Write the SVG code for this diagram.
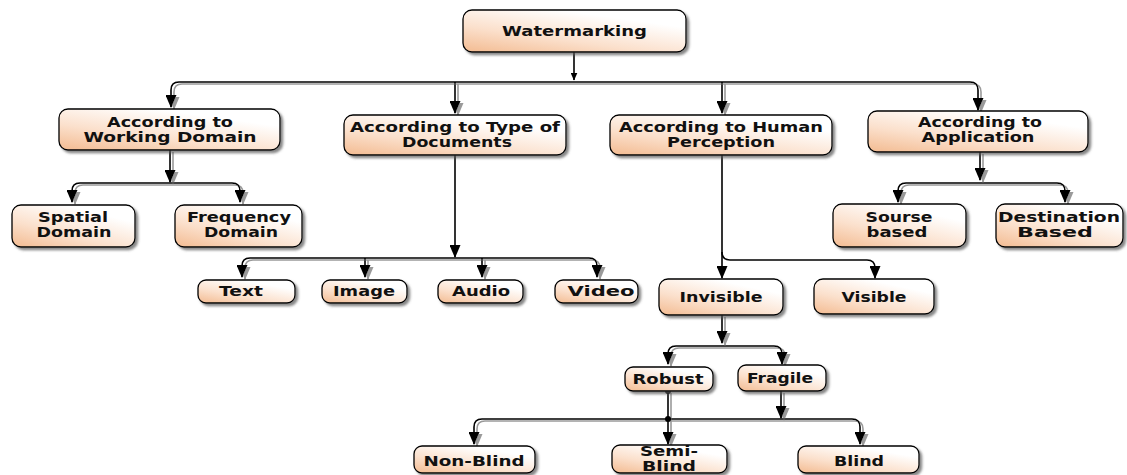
<svg xmlns="http://www.w3.org/2000/svg" width="1127" height="475" viewBox="0 0 1127 475">
  <defs>
    <linearGradient id="peach" x1="0" y1="1" x2="0.75" y2="0">
      <stop offset="0" stop-color="#f3bb91"/>
      <stop offset="0.4" stop-color="#fbe0cc"/>
      <stop offset="0.85" stop-color="#ffffff"/>
    </linearGradient>
    <filter id="boxShadow" x="-10%" y="-20%" width="125%" height="150%">
      <feDropShadow dx="2.5" dy="2.5" stdDeviation="1" flood-color="#555" flood-opacity="0.7"/>
    </filter>
    <filter id="lineShadow" x="-5%" y="-20%" width="110%" height="140%">
      <feDropShadow dx="3" dy="2" stdDeviation="0.5" flood-color="#9a9a9a" flood-opacity="1"/>
    </filter>
    <marker id="arrow" viewBox="0 0 13 11" refX="12" refY="5.5" markerWidth="13" markerHeight="11" markerUnits="userSpaceOnUse" orient="auto-start-reverse">
      <path d="M0,0 L13,5.5 L0,11 z" fill="#000"/>
    </marker>
    <marker id="arrowSmall" viewBox="0 0 8 7" refX="7.5" refY="3.5" markerWidth="8" markerHeight="7" markerUnits="userSpaceOnUse" orient="auto">
      <path d="M0,0 L8,3.5 L0,7 z" fill="#000"/>
    </marker>
  </defs>
  <style>
    .box { fill: url(#peach); stroke: #000; stroke-width: 1.3; filter: url(#boxShadow); }
    .lbl { font-family: "DejaVu Sans", Verdana, sans-serif; font-weight: bold; font-size: 14px; fill: #111; text-anchor: middle; }
    .con { fill: none; stroke: #000; stroke-width: 1.6; }
    .arr { marker-end: url(#arrow); }
    .both { marker-start: url(#arrow); marker-end: url(#arrow); }
  </style>

  <rect width="1127" height="475" fill="#fff"/>

  <!-- connectors -->
  <g id="connectors">
    <!-- root to category bar -->
    <path class="con" d="M574,52 V80" stroke-width="1.2" marker-end="url(#arrowSmall)"/>
    <g filter="url(#lineShadow)">
      <!-- category bar -->
      <path class="con both" d="M171,107 V90 Q171,82 179,82 H970 Q978,82 978,90 V110"/>
      <path class="con arr" d="M455,82 V113"/>
      <path class="con arr" d="M722,82 V113"/>
      <!-- working domain -->
      <path class="con arr" d="M170,150 V182"/>
      <path class="con both" d="M72,202 V191 Q72,183 80,183 H232 Q240,183 240,191 V202"/>
      <!-- type of documents split -->
      <path class="con both" d="M242,277 V266 Q242,258 250,258 H589 Q597,258 597,266 V277"/>
      <path class="con arr" d="M365,258 V277"/>
      <path class="con arr" d="M482,258 V277"/>
      <!-- application -->
      <path class="con arr" d="M980,152 V180"/>
      <path class="con both" d="M898,202 V191 Q898,183 906,183 H1057 Q1065,183 1065,191 V202"/>
      <!-- invisible -->
      <path class="con arr" d="M722,315 V343"/>
      <path class="con both" d="M668,364 V354 Q668,346 676,346 H774 Q782,346 782,354 V364"/>
      <!-- robust / fragile -->
      <path class="con" d="M668,391 V419"/>
      <path class="con both" d="M474,444 V427 Q474,419 482,419 H852 Q860,419 860,427 V444"/>
      <path class="con arr" d="M668,419 V444"/>
      <path class="con arr" d="M781,391 V418"/>
    </g>
    <!-- single (unshadowed) long connectors -->
    <path class="con arr" d="M455,155 V257"/>
    <path class="con arr" d="M722,155 V278"/>
    <path class="con arr" d="M722,252 Q722,260 730,260 H867 Q875,260 875,268 V278"/>
    <circle cx="668" cy="391" r="3" fill="#000"/>
    <circle cx="668" cy="419" r="3" fill="#000"/>
  </g>

  <!-- nodes -->
  <g id="n-watermarking">
    <rect class="box" x="463" y="10" width="223" height="42" rx="9"/>
    <text class="lbl" x="574.5" y="36" textLength="145" lengthAdjust="spacingAndGlyphs">Watermarking</text>
  </g>

  <g id="n-working-domain">
    <rect class="box" x="59" y="109" width="221" height="41" rx="9"/>
    <text class="lbl" x="170" y="127" textLength="126" lengthAdjust="spacingAndGlyphs">According to</text>
    <text class="lbl" x="170" y="142" textLength="173" lengthAdjust="spacingAndGlyphs">Working Domain</text>
  </g>

  <g id="n-type-documents">
    <rect class="box" x="344" y="115" width="222" height="40" rx="9"/>
    <text class="lbl" x="455" y="132" textLength="210" lengthAdjust="spacingAndGlyphs">According to Type of</text>
    <text class="lbl" x="457" y="147" textLength="110" lengthAdjust="spacingAndGlyphs">Documents</text>
  </g>

  <g id="n-human-perception">
    <rect class="box" x="610" y="115" width="222" height="40" rx="9"/>
    <text class="lbl" x="721" y="132" textLength="204" lengthAdjust="spacingAndGlyphs">According to Human</text>
    <text class="lbl" x="721" y="147" textLength="108" lengthAdjust="spacingAndGlyphs">Perception</text>
  </g>

  <g id="n-application">
    <rect class="box" x="868" y="111" width="220" height="41" rx="9"/>
    <text class="lbl" x="980" y="127" textLength="124" lengthAdjust="spacingAndGlyphs">According to</text>
    <text class="lbl" x="978" y="142" textLength="113" lengthAdjust="spacingAndGlyphs">Application</text>
  </g>

  <g id="n-spatial">
    <rect class="box" x="12" y="205" width="123" height="42" rx="9"/>
    <text class="lbl" x="73" y="222" textLength="70" lengthAdjust="spacingAndGlyphs">Spatial</text>
    <text class="lbl" x="74" y="237" textLength="75" lengthAdjust="spacingAndGlyphs">Domain</text>
  </g>

  <g id="n-frequency">
    <rect class="box" x="175" y="205" width="127" height="42" rx="9"/>
    <text class="lbl" x="239" y="222" textLength="104" lengthAdjust="spacingAndGlyphs">Frequency</text>
    <text class="lbl" x="241" y="237" textLength="74" lengthAdjust="spacingAndGlyphs">Domain</text>
  </g>

  <g id="n-sourse">
    <rect class="box" x="833" y="204" width="133" height="43" rx="9"/>
    <text class="lbl" x="899" y="222" textLength="67" lengthAdjust="spacingAndGlyphs">Sourse</text>
    <text class="lbl" x="897" y="237" textLength="61" lengthAdjust="spacingAndGlyphs">based</text>
  </g>

  <g id="n-destination">
    <rect class="box" x="996" y="204" width="127" height="43" rx="9"/>
    <text class="lbl" x="1059" y="222" textLength="122" lengthAdjust="spacingAndGlyphs">Destination</text>
    <text class="lbl" x="1055" y="237" textLength="76" lengthAdjust="spacingAndGlyphs">Based</text>
  </g>

  <g id="n-text">
    <rect class="box" x="198" y="280" width="97" height="23" rx="8"/>
    <text class="lbl" x="241" y="296" textLength="44" lengthAdjust="spacingAndGlyphs">Text</text>
  </g>

  <g id="n-image">
    <rect class="box" x="322" y="280" width="85" height="23" rx="8"/>
    <text class="lbl" x="364" y="296" textLength="62" lengthAdjust="spacingAndGlyphs">Image</text>
  </g>

  <g id="n-audio">
    <rect class="box" x="438" y="280" width="85" height="23" rx="8"/>
    <text class="lbl" x="481" y="296" textLength="58" lengthAdjust="spacingAndGlyphs">Audio</text>
  </g>

  <g id="n-video">
    <rect class="box" x="555" y="280" width="83" height="23" rx="8"/>
    <text class="lbl" x="601" y="296" textLength="67" lengthAdjust="spacingAndGlyphs">Video</text>
  </g>

  <g id="n-invisible">
    <rect class="box" x="659" y="279" width="124" height="36" rx="9"/>
    <text class="lbl" x="721" y="302" textLength="83" lengthAdjust="spacingAndGlyphs">Invisible</text>
  </g>

  <g id="n-visible">
    <rect class="box" x="814" y="279" width="120" height="35" rx="9"/>
    <text class="lbl" x="874" y="302" textLength="65" lengthAdjust="spacingAndGlyphs">Visible</text>
  </g>

  <g id="n-robust">
    <rect class="box" x="625" y="367" width="88" height="24" rx="8"/>
    <text class="lbl" x="668" y="384" textLength="71" lengthAdjust="spacingAndGlyphs">Robust</text>
  </g>

  <g id="n-fragile">
    <rect class="box" x="738" y="365" width="88" height="26" rx="8"/>
    <text class="lbl" x="780" y="383" textLength="66" lengthAdjust="spacingAndGlyphs">Fragile</text>
  </g>

  <g id="n-nonblind">
    <rect class="box" x="414" y="446" width="121" height="27" rx="8"/>
    <text class="lbl" x="474" y="466" textLength="101" lengthAdjust="spacingAndGlyphs">Non-Blind</text>
  </g>

  <g id="n-semiblind">
    <rect class="box" x="612" y="445" width="115" height="28" rx="8"/>
    <text class="lbl" x="669" y="456" textLength="58" lengthAdjust="spacingAndGlyphs">Semi-</text>
    <text class="lbl" x="669" y="471" textLength="54" lengthAdjust="spacingAndGlyphs">Blind</text>
  </g>

  <g id="n-blind">
    <rect class="box" x="798" y="446" width="121" height="27" rx="8"/>
    <text class="lbl" x="859" y="466" textLength="50" lengthAdjust="spacingAndGlyphs">Blind</text>
  </g>
</svg>
